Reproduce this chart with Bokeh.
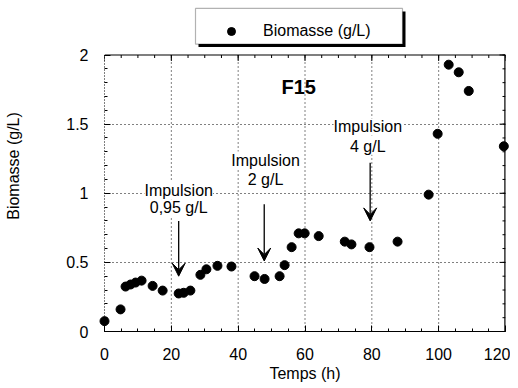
import math
from bokeh.plotting import figure
from bokeh.models import (Range1d, FixedTicker, Label, Arrow, VeeHead, Legend, LegendItem,
                          BoxAnnotation)
from bokeh.embed import file_html
from bokeh.resources import INLINE

# ---- data ----
temps_h = [0, 4.8, 6.3, 7.8, 9.3, 11.1, 14.4, 17.4, 22.2, 23.7, 25.7,
           28.7, 30.5, 33.8, 38, 44.9, 47.9, 52.4, 53.9, 56, 58.1, 59.9, 64.1,
           71.9, 73.9, 79.3, 87.7, 97, 99.7, 103, 106, 109, 119.5]
biomasse = [0.075, 0.16, 0.325, 0.34, 0.354, 0.368, 0.33, 0.296, 0.275, 0.28, 0.296,
            0.41, 0.45, 0.475, 0.47, 0.40, 0.38, 0.40, 0.48, 0.61, 0.71, 0.71, 0.69,
            0.65, 0.63, 0.61, 0.65, 0.99, 1.43, 1.93, 1.875, 1.74, 1.34]

x_ticks = [0, 20, 40, 60, 80, 100, 120]
x_minor = list(range(0, 121, 5))
y_ticks = [0, 0.5, 1, 1.5, 2]
y_minor = [i / 10 for i in range(0, 21)]
y_tick_labels = ["0", "0.5", "1", "1.5", "2"]

impulse_x = [22.2, 47.8, 79.5]
impulse_top = [0.80, 0.92, 1.22]
impulse_tip = [0.40, 0.51, 0.80]
impulse_label1 = ["Impulsion", "Impulsion", "Impulsion"]
impulse_label2 = ["0,95 g/L", "2 g/L", "4 g/L"]
label1_y = [1.02, 1.24, 1.48]
label2_y = [0.895, 1.10, 1.34]
label_x = [22.2, 48.2, 78.8]

X_MIN, X_MAX = 0, 120
Y_MIN, Y_MAX = 0, 2
FONT = "Liberation Sans"

# ---- layout (pixels) ----
W, H = 510, 384
B_LEFT, B_RIGHT, B_TOP, B_BOTTOM = 104, 5, 0, 50
FRAME_W = W - B_LEFT - B_RIGHT
FRAME_H = H - B_TOP - B_BOTTOM
HEAD_PX = 55  # space kept above the y=2 line inside the frame for the legend
Y_TOP = Y_MAX * FRAME_H / (FRAME_H - HEAD_PX)
PX_X = FRAME_W / (X_MAX - X_MIN)
PX_Y = FRAME_H / (Y_TOP - Y_MIN)

p = figure(width=W, height=H, output_backend="svg", toolbar_location=None,
           x_range=Range1d(X_MIN, X_MAX), y_range=Range1d(Y_MIN, Y_TOP),
           min_border_left=B_LEFT, min_border_right=B_RIGHT, min_border_top=B_TOP,
           min_border_bottom=B_BOTTOM)
p.outline_line_color = None
p.background_fill_color = "white"

# axes
for ax in (p.xaxis[0], p.yaxis[0]):
    ax.major_tick_in = 6
    ax.major_tick_out = 0
    ax.minor_tick_in = 3
    ax.minor_tick_out = 0
    ax.axis_line_color = "black"
    ax.major_label_text_font = FONT
    ax.major_label_text_font_size = "16px"
    ax.major_label_text_color = "black"
    ax.axis_label_text_font = FONT
    ax.axis_label_text_font_size = "16px"
    ax.axis_label_text_font_style = "normal"
    ax.axis_label_text_color = "black"

p.xaxis.ticker = FixedTicker(ticks=x_ticks, minor_ticks=x_minor)
p.yaxis.ticker = FixedTicker(ticks=y_ticks, minor_ticks=y_minor)
p.yaxis.bounds = (Y_MIN, Y_MAX)
p.yaxis.major_label_overrides = {t: l for t, l in zip(y_ticks, y_tick_labels)}
p.xaxis.axis_label = "Temps (h)"
p.yaxis.axis_label = "Biomasse (g/L)"
p.xaxis.major_label_standoff = 16
p.xaxis.axis_label_standoff = 2
p.yaxis.major_label_standoff = 16
p.yaxis.axis_label_standoff = 41
p.yaxis.axis_line_dash = "1 2"

# grid (dotted)
p.xgrid.visible = False
p.ygrid.ticker = FixedTicker(ticks=y_ticks[1:-1])
p.ygrid.grid_line_color = "black"
p.ygrid.grid_line_dash = "1 3"
inner_x = x_ticks[1:-1]
p.segment(x0=inner_x, y0=[Y_MIN] * len(inner_x), x1=inner_x, y1=[Y_MAX] * len(inner_x),
          line_color="black", line_dash="1 3", line_width=1)

# plot box: top and right edges + inward mirrored ticks
p.segment(x0=[X_MIN], y0=[Y_MAX], x1=[X_MAX], y1=[Y_MAX], line_color="black", line_width=1.2)
p.segment(x0=[X_MAX], y0=[Y_MIN], x1=[X_MAX], y1=[Y_MAX], line_color="black", line_width=2.4)
p.ray(x=x_ticks, y=[Y_MAX] * len(x_ticks), length=6, length_units="screen",
      angle=-math.pi / 2, line_color="black")
p.ray(x=x_minor, y=[Y_MAX] * len(x_minor), length=3, length_units="screen",
      angle=-math.pi / 2, line_color="black")
p.ray(x=[X_MAX] * len(y_ticks), y=y_ticks, length=6, length_units="screen",
      angle=math.pi, line_color="black")
p.ray(x=[X_MAX] * len(y_minor), y=y_minor, length=3, length_units="screen",
      angle=math.pi, line_color="black")

# data
r = p.scatter(temps_h, biomasse, size=9, color="black", level="overlay")

# title F15
p.add_layout(Label(x=58.1, y=1.77, text="F15", text_font=FONT, text_font_size="20px",
                   text_font_style="bold", text_color="black",
                   text_align="center", text_baseline="middle"))

# impulse annotations
for xa, yt, yb in zip(impulse_x, impulse_top, impulse_tip):
    p.add_layout(Arrow(x_start=xa, y_start=yt, x_end=xa, y_end=yb, line_width=1.3,
                       line_color="black",
                       end=VeeHead(size=13, fill_color="black", line_color="black")))
for lx, l1, l2, y1, y2 in zip(label_x, impulse_label1, impulse_label2, label1_y, label2_y):
    for txt, yy in ((l1, y1), (l2, y2)):
        p.add_layout(Label(x=lx, y=yy, text=txt, text_font=FONT, text_font_size="16px",
                           text_color="black", text_align="center", text_baseline="middle",
                           background_fill_color="white"))

# legend box (drawn as boxes, frame-relative pixels) with a drop shadow
BOX_L, BOX_R, BOX_T, BOX_B, SH = 91, 298, 326, 290, 3  # px from frame bottom-left
p.add_layout(BoxAnnotation(left=(BOX_L + SH) / PX_X, right=(BOX_R + SH) / PX_X,
                           bottom=(BOX_B - SH) / PX_Y, top=(BOX_T - SH) / PX_Y,
                           fill_color="black", fill_alpha=1, line_color=None))
p.add_layout(BoxAnnotation(left=BOX_L / PX_X, right=BOX_R / PX_X,
                           bottom=BOX_B / PX_Y, top=BOX_T / PX_Y,
                           fill_color="white", fill_alpha=1, line_color="black",
                           line_width=1.2))
legend = Legend(items=[LegendItem(label="Biomasse (g/L)", renderers=[r])],
                location=(BOX_L + 6, BOX_B), padding=8, margin=0, glyph_width=60,
                glyph_height=20, label_standoff=2, label_width=120, label_height=20,
                label_text_font=FONT, label_text_font_size="16px",
                label_text_color="black",
                border_line_color=None, background_fill_alpha=0)
p.add_layout(legend)

open("out.html", "w").write(file_html(p, INLINE))
